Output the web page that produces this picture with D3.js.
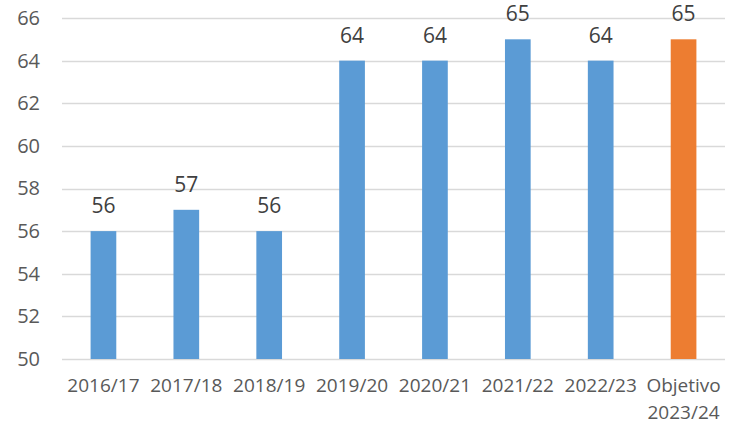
<!DOCTYPE html>
<html>
<head>
<meta charset="utf-8">
<script src="https://cdn.jsdelivr.net/npm/d3@7"></script>
<style>
  body { margin: 0; background: #fff; }
  text { font-family: "Open Sans", sans-serif; fill: #595959; }
</style>
</head>
<body>
<svg id="chart" width="739" height="425"></svg>
<script>
// chart data
const categories = ['2016/17', '2017/18', '2018/19', '2019/20', '2020/21', '2021/22', '2022/23', 'Objetivo\n2023/24']
const values = [56, 57, 56, 64, 64, 65, 64, 65]
const barColors = ['#5B9BD5', '#5B9BD5', '#5B9BD5', '#5B9BD5', '#5B9BD5', '#5B9BD5', '#5B9BD5', '#ED7D31']
const yTicks = [50, 52, 54, 56, 58, 60, 62, 64, 66]

let svg = d3.select('#chart'),
    margin = { top: 18, right: 14, bottom: 66, left: 62 },
    width = +svg.attr('width') - margin.left - margin.right,
    height = +svg.attr('height') - margin.top - margin.bottom

let g = svg.append('g').attr('transform', 'translate(' + margin.left + ',' + margin.top + ')')

let x = d3.scaleBand()
    .domain(categories)
    .range([0, width])
    .paddingInner(0.69)
    .paddingOuter(0.345)

let y = d3.scaleLinear()
    .domain([50, 66])
    .range([height, 0])

// gridlines
g.append('g')
    .selectAll('line')
    .data(yTicks)
    .join('line')
    .attr('x1', 0)
    .attr('x2', width)
    .attr('y1', d => Math.round(y(d)) + 0.5)
    .attr('y2', d => Math.round(y(d)) + 0.5)
    .attr('stroke', '#D9D9D9')
    .attr('stroke-width', 1.5)

// y axis labels
let yAxis = g.append('g')
    .call(d3.axisLeft(y).tickValues(yTicks).tickSize(0).tickPadding(22))
yAxis.select('.domain').remove()
yAxis.selectAll('text')
    .style('font-size', '20px')
    .attr('fill', '#595959')

// bars
g.append('g')
    .selectAll('rect')
    .data(values)
    .join('rect')
    .attr('x', (d, i) => x(categories[i]))
    .attr('y', d => y(d))
    .attr('width', x.bandwidth())
    .attr('height', d => height - y(d))
    .attr('fill', (d, i) => barColors[i])

// value labels
g.append('g')
    .selectAll('text')
    .data(values)
    .join('text')
    .attr('x', (d, i) => x(categories[i]) + x.bandwidth() / 2)
    .attr('y', d => y(d) - 18)
    .attr('text-anchor', 'middle')
    .style('font-size', '21px')
    .style('fill', '#404040')
    .text(d => d)

// x axis labels (may wrap on two lines)
let xl = g.append('g')
    .selectAll('text')
    .data(categories)
    .join('text')
    .attr('x', d => x(d) + x.bandwidth() / 2)
    .attr('y', height + 33)
    .attr('text-anchor', 'middle')
    .style('font-size', '19px')

xl.each(function (d) {
    let lines = d.split('\n')
    let t = d3.select(this)
    lines.forEach((s, i) => {
        t.append('tspan')
            .attr('x', t.attr('x'))
            .attr('dy', i == 0 ? 0 : 27)
            .text(s)
    })
})
</script>
</body>
</html>
